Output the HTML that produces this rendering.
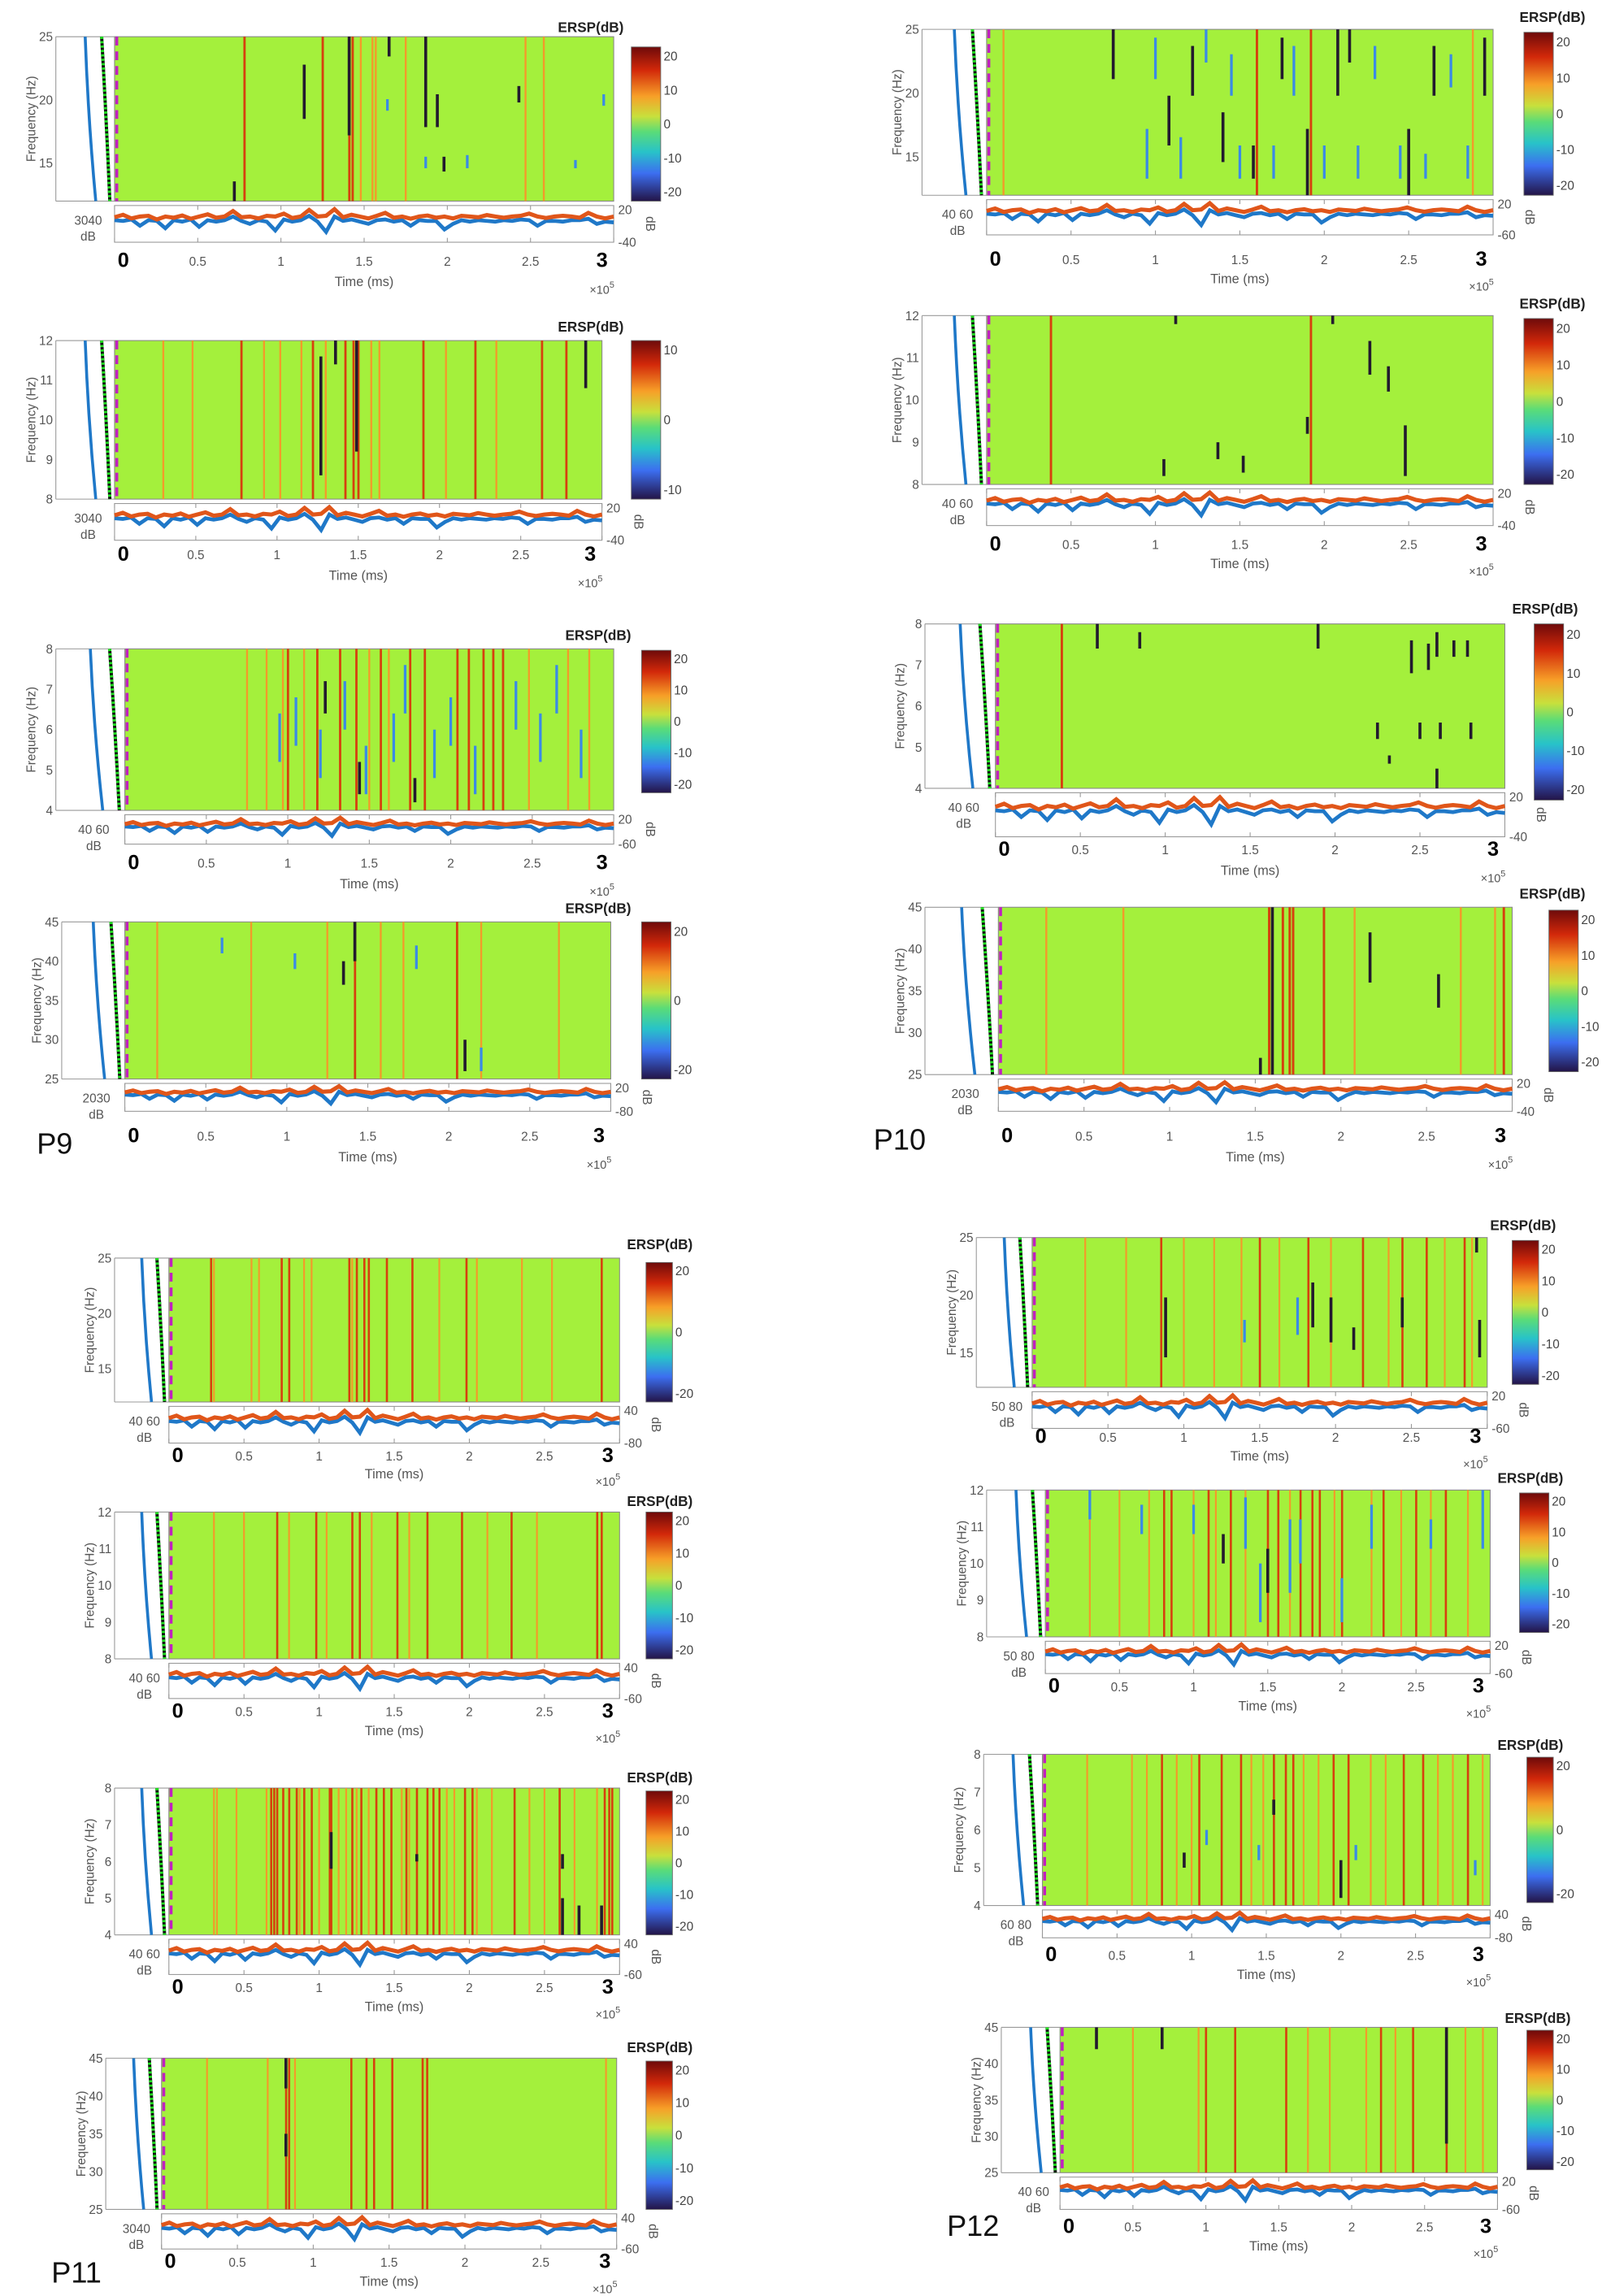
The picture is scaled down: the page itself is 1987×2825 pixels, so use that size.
<!DOCTYPE html>
<html><head><meta charset="utf-8"><style>
html,body{margin:0;padding:0;background:#fff;}
svg{display:block;}
text{font-family:"Liberation Sans",sans-serif;}
</style></head>
<body>
<svg id="fig" width="1987" height="2825" viewBox="0 0 1100 1564" xmlns="http://www.w3.org/2000/svg">
<defs>
<linearGradient id="jet" x1="0" y1="0" x2="0" y2="1">
<stop offset="0" stop-color="#6e0a0a"/><stop offset="0.15" stop-color="#d2280a"/>
<stop offset="0.32" stop-color="#f7a028"/><stop offset="0.45" stop-color="#c8e03c"/>
<stop offset="0.55" stop-color="#5adc78"/><stop offset="0.68" stop-color="#28c3c8"/>
<stop offset="0.82" stop-color="#3c6ef0"/><stop offset="1" stop-color="#231447"/>
</linearGradient>
</defs>
</svg>
<script>
// ---- data ----
const panelIds = ["p9-25hz","p9-12hz","p9-8hz","p9-45hz","p10-25hz","p10-12hz","p10-8hz","p10-45hz","p11-25hz","p11-12hz","p11-8hz","p11-45hz","p12-25hz","p12-12hz","p12-8hz","p12-45hz"];
const freqTicks = [[25,20,15],[12,11,10,9,8],[8,7,6,5,4],[45,40,35,30,25],[25,20,15],[12,11,10,9,8],[8,7,6,5,4],[45,40,35,30,25],[25,20,15],[12,11,10,9,8],[8,7,6,5,4],[45,40,35,30,25],[25,20,15],[12,11,10,9,8],[8,7,6,5,4],[45,40,35,30,25]];
const freqTop = [25,12,8,45,25,12,8,45,25,12,8,45,25,12,8,45];
const freqBottom = [12,8,4,25,12,8,4,25,12,8,4,25,12,8,4,25];
const cbarTicks = [[20,10,0,-10,-20],[10,0,-10],[20,10,0,-10,-20],[20,0,-20],[20,10,0,-10,-20],[20,10,0,-10,-20],[20,10,0,-10,-20],[20,10,0,-10,-20],[20,0,-20],[20,10,0,-10,-20],[20,10,0,-10,-20],[20,10,0,-10,-20],[20,10,0,-10,-20],[20,10,0,-10,-20],[20,0,-20],[20,10,0,-10,-20]];
const leftDbLabels = ["3040","3040","40 60","2030","40 60","40 60","40 60","2030","40 60","40 60","40 60","3040","50 80","50 80","60 80","40 60"];
const traceTopLabels = ["20","20","20","20","20","20","20","20","40","40","40","40","20","20","40","20"];
const traceBotLabels = ["-40","-40","-60","-80","-60","-40","-40","-40","-80","-60","-60","-60","-60","-60","-80","-60"];
const timeTicks = [0,0.5,1,1.5,2,2.5,3];
const redTimes = [
[0.78,1.25,1.41,1.43],
[0.78,1.22,1.42,1.47,1.5,1.9,2.22,2.63,2.78],
[1.0,1.18,1.32,1.42,1.57,1.75,1.84,2.04,2.11,2.2,2.26,2.32],
[1.42,2.05],
[1.6,1.92],
[0.38,1.92],
[0.39],
[1.58,1.66,1.7,1.72,1.9,2.95],
[0.28,0.75,0.8,1.2,1.25,1.3,1.33,1.45,1.62,1.98,2.88],
[0.72,0.98,1.22,1.27,1.52,1.72,1.95,2.28,2.85,2.88],
[0.68,0.7,0.72,0.76,0.8,0.85,0.9,0.95,1.07,1.08,1.22,1.28,1.38,1.43,1.48,1.58,1.65,1.72,1.76,1.8,1.97,2.02,2.3,2.6,2.9,2.93,2.95],
[0.82,0.84,1.25,1.35,1.4,1.52,1.72,1.75],
[0.85,1.5,1.82,2.18,2.44,2.6,2.85],
[0.8,0.85,1.1,1.25,1.5,1.57,1.72,1.8,1.85,2.0,2.28,2.5,2.7],
[0.8,1.05,1.2,1.33,1.55,1.63,1.68,1.95,2.05,2.42,2.55,2.85],
[1.0,1.2,1.55,2.2,2.42,2.65]];
const orangeTimes = [
[1.48,1.55,1.57,1.75,2.47,2.58],
[0.3,0.48,0.92,1.02,1.15,1.3,1.58,1.63,2.04,2.35],
[0.75,0.87,0.97,1.1,1.5,1.62,2.48,2.72,2.85],
[0.2,0.78,1.25,1.58,1.72,2.2,2.68],
[0.1,2.88],
[],
[],
[0.28,0.73,2.08,2.7,2.9],
[0.3,0.55,0.6,0.9,0.95,1.22,1.8,2.05,2.35,2.55],
[0.3,0.5,0.8,1.05,1.35,1.6,2.12,2.45],
[0.3,0.32,0.45,0.65,0.87,1.0,1.13,1.18,1.25,1.33,1.55,1.6,1.85,1.9,2.05,2.15,2.4,2.5,2.7,2.85],
[0.3,0.88,0.7,2.93],
[0.35,0.62,1.0,1.2,1.38,1.63,1.97,2.35,2.72,2.9],
[0.3,0.5,0.7,1.0,1.15,1.35,1.65,1.95,2.2,2.4,2.6,2.85],
[0.3,0.6,0.7,0.9,1.0,1.4,1.48,1.75,1.85,2.2,2.3,2.65,2.75,2.95],
[0.5,0.95,1.7,1.85,2.1,2.3,2.78,2.9]];
// [time, fracLow, fracHigh]
const darkMarks = [
[[1.14,0.5,0.83],[1.41,0.4,1],[1.65,0.88,1],[1.87,0.45,1],[1.94,0.45,0.65],[2.43,0.6,0.7],[1.98,0.18,0.27],[0.72,0,0.12]],
[[1.27,0.15,0.9],[1.49,0.3,1],[2.9,0.7,1],[1.36,0.85,1]],
[[1.23,0.6,0.8],[1.44,0.1,0.3],[1.78,0.05,0.2]],
[[1.42,0.75,1],[1.35,0.6,0.75],[2.1,0.05,0.25]],
[[0.75,0.7,1],[1.08,0.3,0.6],[1.4,0.2,0.5],[1.75,0.7,0.95],[1.9,0,0.4],[2.08,0.6,1],[2.15,0.8,1],[2.65,0.6,0.9],[1.22,0.6,0.9],[1.58,0.1,0.3],[2.5,0,0.4],[2.95,0.6,0.95]],
[[1.05,0.05,0.15],[1.37,0.15,0.25],[1.52,0.07,0.17],[1.9,0.3,0.4],[2.27,0.65,0.85],[2.38,0.55,0.7],[2.48,0.05,0.35],[2.05,0.95,1],[1.12,0.95,1]],
[[0.6,0.85,1],[0.85,0.85,0.95],[1.9,0.85,1],[2.45,0.7,0.9],[2.55,0.72,0.88],[2.6,0.8,0.95],[2.7,0.8,0.9],[2.78,0.8,0.9],[2.25,0.3,0.4],[2.5,0.3,0.4],[2.62,0.3,0.4],[2.8,0.3,0.4],[2.32,0.15,0.2],[2.6,0,0.12]],
[[1.6,0,1],[2.17,0.55,0.85],[2.57,0.4,0.6],[1.53,0,0.1]],
[],
[],
[[1.08,0.45,0.7],[1.65,0.5,0.55],[2.62,0.45,0.55],[2.62,0,0.25],[2.73,0,0.2],[2.88,0,0.2]],
[[0.82,0.8,1],[0.82,0.35,0.5]],
[[0.88,0.2,0.6],[1.85,0.4,0.7],[1.97,0.3,0.6],[2.12,0.25,0.4],[2.44,0.4,0.6],[2.95,0.2,0.45],[2.93,0.9,1]],
[[1.5,0.3,0.6],[1.2,0.5,0.7]],
[[0.95,0.25,0.35],[2.0,0.05,0.3],[1.55,0.6,0.7]],
[[0.25,0.85,1],[0.7,0.85,1],[2.65,0.2,1]]];
const blueMarks = [
[[1.87,0.2,0.27],[2.12,0.2,0.28],[2.77,0.2,0.25],[1.64,0.55,0.62],[2.94,0.58,0.65]],
[],
[[0.95,0.3,0.6],[1.05,0.4,0.7],[1.2,0.2,0.5],[1.35,0.5,0.8],[1.48,0.1,0.4],[1.65,0.3,0.6],[1.72,0.6,0.9],[1.9,0.2,0.5],[2.0,0.4,0.7],[2.15,0.1,0.4],[2.4,0.5,0.8],[2.55,0.3,0.6],[2.65,0.6,0.9],[2.8,0.2,0.5]],
[[0.6,0.8,0.9],[1.8,0.7,0.85],[1.05,0.7,0.8],[2.2,0.05,0.2]],
[[0.95,0.1,0.4],[1.0,0.7,0.95],[1.15,0.1,0.35],[1.3,0.8,1],[1.45,0.6,0.85],[1.5,0.1,0.3],[1.7,0.1,0.3],[1.82,0.6,0.9],[2.0,0.1,0.3],[2.2,0.1,0.3],[2.3,0.7,0.9],[2.45,0.1,0.3],[2.6,0.1,0.25],[2.75,0.65,0.85],[2.85,0.1,0.3]],
[],[],[],[],[],[],[],
[[1.4,0.3,0.45],[1.75,0.35,0.6]],
[[0.65,0.7,0.9],[1.0,0.7,0.9],[1.35,0.6,0.95],[1.45,0.1,0.5],[1.65,0.3,0.8],[1.72,0.5,0.8],[2.0,0.1,0.4],[2.2,0.6,0.9],[2.6,0.6,0.8],[2.95,0.6,1],[0.3,0.8,1]],
[[1.1,0.4,0.5],[1.45,0.3,0.4],[2.1,0.3,0.4],[2.9,0.2,0.3]],
[]];
// trace values as fraction of trace-axis height from top
const traceOrange = [0.32,0.25,0.35,0.3,0.28,0.38,0.3,0.33,0.27,0.36,0.3,0.24,0.33,0.3,0.15,0.32,0.3,0.35,0.28,0.3,0.22,0.34,0.3,0.12,0.3,0.28,0.1,0.32,0.25,0.3,0.35,0.28,0.2,0.33,0.3,0.36,0.3,0.27,0.33,0.3,0.35,0.28,0.3,0.32,0.26,0.3,0.33,0.3,0.28,0.22,0.3,0.34,0.3,0.28,0.3,0.33,0.2,0.3,0.35,0.3];
const traceBlue = [0.4,0.42,0.38,0.55,0.4,0.42,0.62,0.4,0.44,0.38,0.58,0.4,0.44,0.4,0.3,0.42,0.5,0.4,0.44,0.68,0.38,0.44,0.4,0.28,0.44,0.72,0.3,0.42,0.38,0.44,0.5,0.4,0.38,0.44,0.4,0.55,0.4,0.42,0.42,0.65,0.5,0.4,0.44,0.4,0.42,0.44,0.4,0.42,0.38,0.4,0.55,0.42,0.42,0.44,0.4,0.4,0.36,0.5,0.44,0.46];
// ---- layout (px in viewBox) ----
const L = [
{hx0:78,hx1:418,hy0:25,hy1:137,ty1:165,mx0:38,cb:[430,450,32,137],ersp:[380,22],tl:181,tt:195},
{hx0:78,hx1:410,hy0:232,hy1:340,ty1:368,mx0:38,cb:[430,450,232,340],ersp:[380,226],tl:381,tt:395},
{hx0:85,hx1:418,hy0:442,hy1:552,ty1:575,mx0:38,cb:[437,457,443,540],ersp:[385,436],tl:591,tt:605},
{hx0:85,hx1:416,hy0:628,hy1:735,ty1:757,mx0:42,cb:[437,457,628,735],ersp:[385,622],tl:777,tt:791,plabel:["P9",25,786]},
{hx0:672,hx1:1017,hy0:20,hy1:133,ty1:160,mx0:628,cb:[1038,1058,22,133],ersp:[1035,15],tl:180,tt:193},
{hx0:672,hx1:1017,hy0:215,hy1:330,ty1:358,mx0:628,cb:[1038,1058,217,330],ersp:[1035,210],tl:374,tt:387},
{hx0:678,hx1:1025,hy0:425,hy1:537,ty1:570,mx0:630,cb:[1045,1065,425,545],ersp:[1030,418],tl:582,tt:596},
{hx0:680,hx1:1030,hy0:618,hy1:732,ty1:757,mx0:630,cb:[1055,1075,620,730],ersp:[1035,612],tl:777,tt:791,plabel:["P10",595,783]},
{hx0:115,hx1:422,hy0:857,hy1:955,ty1:983,mx0:78,cb:[440,458,860,955],ersp:[427,851],tl:995,tt:1007},
{hx0:115,hx1:422,hy0:1030,hy1:1130,ty1:1157,mx0:78,cb:[440,458,1030,1130],ersp:[427,1026],tl:1169,tt:1182},
{hx0:115,hx1:422,hy0:1218,hy1:1318,ty1:1345,mx0:78,cb:[440,458,1220,1318],ersp:[427,1214],tl:1357,tt:1370},
{hx0:110,hx1:420,hy0:1402,hy1:1505,ty1:1532,mx0:72,cb:[440,458,1404,1505],ersp:[427,1398],tl:1544,tt:1557,plabel:["P11",35,1555]},
{hx0:703,hx1:1013,hy0:843,hy1:945,ty1:973,mx0:665,cb:[1030,1048,845,943],ersp:[1015,838],tl:982,tt:995},
{hx0:712,hx1:1015,hy0:1015,hy1:1115,ty1:1140,mx0:672,cb:[1035,1055,1017,1112],ersp:[1020,1010],tl:1152,tt:1165},
{hx0:710,hx1:1015,hy0:1195,hy1:1298,ty1:1320,mx0:670,cb:[1040,1058,1197,1296],ersp:[1020,1192],tl:1335,tt:1348},
{hx0:722,hx1:1020,hy0:1381,hy1:1480,ty1:1505,mx0:682,cb:[1040,1058,1383,1478],ersp:[1025,1378],tl:1520,tt:1533,plabel:["P12",645,1523]}];

const NS="http://www.w3.org/2000/svg";
const svg=document.getElementById('fig');
function mk(tag,attrs,parent,txt){const e=document.createElementNS(NS,tag);for(const k in attrs)e.setAttribute(k,attrs[k]);if(txt!==undefined)e.textContent=txt;parent.appendChild(e);return e;}

panelIds.forEach((id,i)=>{
  const p=L[i];
  const g=mk('g',{},svg);
  
  
  const xs=t=>p.hx0+(t/3)*(p.hx1-p.hx0);
  const ys=f=>p.hy1-f*(p.hy1-p.hy0);
  const W=p.hx1-p.hx0, H=p.hy1-p.hy0;
  const fy=v=>p.hy0+(freqTop[i]-v)/(freqTop[i]-freqBottom[i])*H;
  const lw=Math.max(1.2,W/260);
  const bg=mk('rect',{x:p.hx0,y:p.hy0,width:W,height:H,fill:'#a4f03c',stroke:'#888','stroke-width':0.6},g);
  
  
  orangeTimes[i].forEach(t=>{
    const r=mk('rect',{x:xs(t)-lw/2,y:p.hy0,width:lw,height:H,fill:'#f39a2a'},g);
    
    
  });
  redTimes[i].forEach(t=>{
    const r=mk('rect',{x:xs(t)-lw/2,y:p.hy0,width:lw*1.2,height:H,fill:'#d6400e'},g);
    
    
  });
  blueMarks[i].forEach(m=>{
    const r=mk('rect',{x:xs(m[0])-0.9,y:ys(m[2]),width:1.8,height:ys(m[1])-ys(m[2]),fill:'#3a8ae6'},g);
    
    
  });
  darkMarks[i].forEach(m=>{
    const r=mk('rect',{x:xs(m[0])-1,y:ys(m[2]),width:2,height:ys(m[1])-ys(m[2]),fill:'#221a2e'},g);
    
    
  });
  mk('line',{x1:p.hx0+1.5,y1:p.hy0,x2:p.hx0+1.5,y2:p.hy1,stroke:'#c020c0','stroke-width':2,'stroke-dasharray':'6 4'},g);
  const mw=p.hx0-p.mx0;
  mk('line',{x1:p.mx0,y1:p.hy0,x2:p.hx0,y2:p.hy0,stroke:'#999','stroke-width':0.6},g);
  mk('line',{x1:p.mx0,y1:p.hy0,x2:p.mx0,y2:p.hy1,stroke:'#999','stroke-width':0.6},g);
  mk('line',{x1:p.mx0,y1:p.hy1,x2:p.hx0,y2:p.hy1,stroke:'#999','stroke-width':0.6},g);
  const bl=mk('path',{d:`M${p.mx0+mw*0.5},${p.hy0} Q${p.mx0+mw*0.55},${(p.hy0+p.hy1)/2} ${p.mx0+mw*0.68},${p.hy1}`,stroke:'#1f78c8','stroke-width':2,fill:'none'},g);
  
  
  const dd=`M${p.mx0+mw*0.78},${p.hy0} Q${p.mx0+mw*0.86},${(p.hy0+p.hy1)/2} ${p.mx0+mw*0.92},${p.hy1}`;
  mk('path',{d:dd,stroke:'#111','stroke-width':2.2,fill:'none'},g);
  mk('path',{d:dd,stroke:'#20e020','stroke-width':2.2,fill:'none','stroke-dasharray':'1.5 1.5'},g);
  freqTicks[i].forEach(v=>{
    mk('text',{x:p.mx0-2,y:fy(v)+3,'font-size':8.5,fill:'#555','text-anchor':'end'},g,String(v));
  });
  const yl=mk('text',{x:0,y:0,'font-size':8.5,fill:'#555','text-anchor':'middle',transform:`translate(${p.mx0-14},${(p.hy0+p.hy1)/2}) rotate(-90)`},g,'Frequency (Hz)');
  
  
  const ty0=p.hy1+3, TH=p.ty1-ty0;
  mk('rect',{x:p.hx0,y:ty0,width:W,height:TH,fill:'#fff',stroke:'#999','stroke-width':0.6},g);
  timeTicks.forEach(t=>{mk('line',{x1:xs(t),y1:ty0,x2:xs(t),y2:ty0+3,stroke:'#999','stroke-width':0.6},g);mk('line',{x1:xs(t),y1:p.ty1,x2:xs(t),y2:p.ty1-3,stroke:'#999','stroke-width':0.6},g);});
  const n=traceBlue.length;
  const pts=a=>a.map((v,k)=>`${(p.hx0+k*W/(n-1)).toFixed(1)},${(ty0+v*TH).toFixed(1)}`).join(' ');
  const tb=mk('polyline',{points:pts(traceBlue),stroke:'#1f78c8','stroke-width':2.6,fill:'none'},g);
  
  
  const to=mk('polyline',{points:pts(traceOrange),stroke:'#e0561a','stroke-width':2.8,fill:'none'},g);
  
  
  mk('text',{x:p.hx1+3,y:ty0+6,'font-size':8.5,fill:'#555'},g,traceTopLabels[i]);
  mk('text',{x:p.hx1+3,y:p.ty1+3,'font-size':8.5,fill:'#555'},g,traceBotLabels[i]);
  mk('text',{x:0,y:0,'font-size':8.5,fill:'#555','text-anchor':'middle',transform:`translate(${p.hx1+22},${(ty0+p.ty1)/2}) rotate(90)`},g,'dB');
  mk('text',{x:p.hx0-mw*0.45,y:ty0+13,'font-size':8.5,fill:'#555','text-anchor':'middle'},g,leftDbLabels[i]);
  mk('text',{x:p.hx0-mw*0.45,y:ty0+24,'font-size':8.5,fill:'#555','text-anchor':'middle'},g,'dB');
  timeTicks.forEach((t,k)=>{
    if(k===0||k===timeTicks.length-1){
      const tx=mk('text',{x:xs(t)+(k===0?6:-8),y:p.tl+1,'font-size':14,'font-weight':'bold',fill:'#000','text-anchor':'middle'},g,String(t));
      
      
    } else mk('text',{x:xs(t),y:p.tl,'font-size':8.5,fill:'#555','text-anchor':'middle'},g,String(t));
  });
  const xt=mk('text',{x:(p.hx0+p.hx1)/2,y:p.tt,'font-size':9,fill:'#555','text-anchor':'middle'},g,'Time (ms)');
  
  
  const ex=mk('text',{x:p.hx1-8,y:p.tt+5,'font-size':8,fill:'#555','text-anchor':'middle'},g,'');
  ex.innerHTML='×10<tspan dy="-4" font-size="6">5</tspan>';
  const c=p.cb;
  const cr=mk('rect',{x:c[0],y:c[2],width:c[1]-c[0],height:c[3]-c[2],fill:'url(#jet)',stroke:'#666','stroke-width':0.5},g);
  
  
  const ct=cbarTicks[i];
  ct.forEach((v,k)=>{
    const y=c[2]+(c[3]-c[2])*(0.06+0.88*k/(ct.length-1));
    mk('text',{x:c[1]+2,y:y+3,'font-size':8.5,fill:'#444'},g,String(v));
  });
  const et=mk('text',{x:p.ersp[0],y:p.ersp[1],'font-size':9.5,'font-weight':'bold',fill:'#222'},g,'ERSP(dB)');
  
  
  if(p.plabel){
    const pl=mk('text',{x:p.plabel[1],y:p.plabel[2],'font-size':20,fill:'#111','font-family':'Liberation Serif, serif'},g,p.plabel[0]);
    
    
  }
});
</script>
</body></html>
